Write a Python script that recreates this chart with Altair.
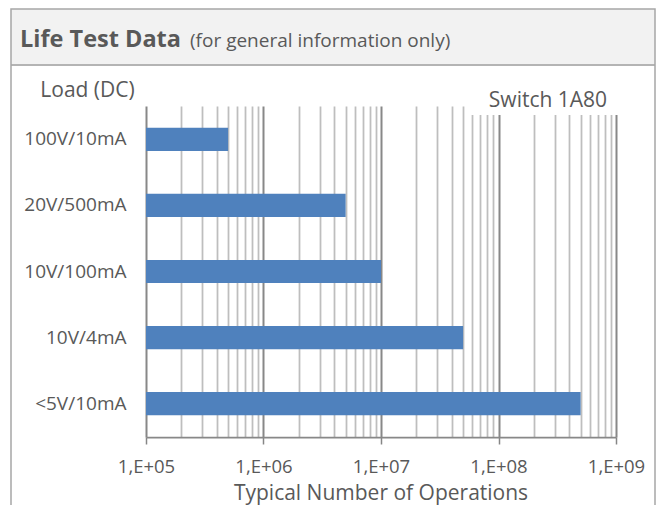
import altair as alt
import pandas as pd

# ---- data ----
loads = ["100V/10mA", "20V/500mA", "10V/100mA", "10V/4mA", "<5V/10mA"]
operations = [5e5, 5e6, 1e7, 5e7, 5e8]
axis_start = 1e5
decades = [100000, 1000000, 10000000, 100000000, 1000000000]
minor_steps = [1, 2, 3, 4, 5, 6, 7, 8, 9]

grid_values = [d * k for d in decades[:-1] for k in minor_steps] + [decades[-1]]

df = pd.DataFrame({"load": loads, "ops": operations, "base": [axis_start] * len(loads)})
one = pd.DataFrame({"a": [0]})

FONT = "Open Sans"
TXT = "#595959"
W, H = 470, 331

dec_list = "[" + ",".join(str(d) for d in decades) + "]"
is_major = f"indexof({dec_list}, datum.value) >= 0"

bars = alt.Chart(df).mark_bar(color="#4F81BD").encode(
    y=alt.Y(
        "load:N",
        sort=loads,
        scale=alt.Scale(paddingInner=0.65, paddingOuter=0.33),
        axis=alt.Axis(
            title=None, domain=False, ticks=False, labelPadding=20,
            labelFontSize=19, labelColor=TXT, labelFont=FONT, grid=False,
        ),
    ),
    x=alt.X(
        "ops:Q",
        scale=alt.Scale(type="log", domain=[decades[0], decades[-1]], nice=False),
        axis=alt.Axis(
            title=None,
            values=grid_values,
            labelExpr=f"{is_major} ? '1,E+0' + format(log(datum.value)/LN10, '.0f') : ''",
            labelOverlap=False, labelFlush=False,
            labelFontSize=18.5, labelColor=TXT, labelFont=FONT, labelPadding=13,
            tickSize=7, tickColor="#868686", tickWidth=1.5,
            tickOpacity=alt.condition(is_major, alt.value(1), alt.value(0)),
            grid=True,
            gridWidth=alt.condition(is_major, alt.value(2), alt.value(1.75)),
            gridColor=alt.condition(is_major, alt.value("#888888"), alt.value("#BEBEBE")),
            domainColor="#888888", domainWidth=1.75,
        ),
    ),
    x2="base:Q",
)

# ---- decoration (frame, header, annotations) ----
header_fill = alt.Chart(one).mark_rect(color="#F2F2F2").encode(
    x=alt.value(-135), x2=alt.value(509), y=alt.value(-97), y2=alt.value(-41)
)
header_line = alt.Chart(one).mark_rule(color="#B4B4B4", strokeWidth=2).encode(
    x=alt.value(-135), x2=alt.value(509), y=alt.value(-41)
)
frame = alt.Chart(one).mark_rect(
    fill="transparent", stroke="#A6A6A6", strokeWidth=1.5
).encode(x=alt.value(-135), x2=alt.value(509), y=alt.value(-97), y2=alt.value(500))

title_main = alt.Chart(one).mark_text(
    text="Life Test Data", font=FONT, fontSize=23.5, fontWeight="bold",
    color=TXT, align="left", baseline="alphabetic",
).encode(x=alt.value(-126), y=alt.value(-59.5))
title_sub = alt.Chart(one).mark_text(
    text="(for general information only)", font=FONT, fontSize=19,
    color=TXT, align="left", baseline="alphabetic",
).encode(x=alt.value(44), y=alt.value(-59.5))

y_title = alt.Chart(one).mark_text(
    text="Load (DC)", font=FONT, fontSize=21, color=TXT,
    align="center", baseline="alphabetic",
).encode(x=alt.value(-58.5), y=alt.value(-9))

switch_bg = alt.Chart(one).mark_rect(color="white").encode(
    x=alt.value(322), x2=alt.value(474), y=alt.value(-1), y2=alt.value(9)
)
switch_txt = alt.Chart(one).mark_text(
    text="Switch 1A80", font=FONT, fontSize=21, color=TXT,
    align="center", baseline="alphabetic",
).encode(x=alt.value(402), y=alt.value(1))

x_title = alt.Chart(one).mark_text(
    text="Typical Number of Operations", font=FONT, fontSize=21, color=TXT,
    align="center", baseline="alphabetic",
).encode(x=alt.value(235), y=alt.value(394))

chart = alt.layer(
    header_fill, header_line, bars, switch_bg, switch_txt,
    frame, title_main, title_sub, y_title, x_title,
).properties(
    width=W, height=H,
    autosize=alt.AutoSizeParams(type="none"),
    padding={"left": 138, "top": 98, "right": 40, "bottom": 68},
    background="white",
).configure_view(strokeOpacity=0)

chart.save("out.html", embed_options={"renderer": "svg", "actions": False})
